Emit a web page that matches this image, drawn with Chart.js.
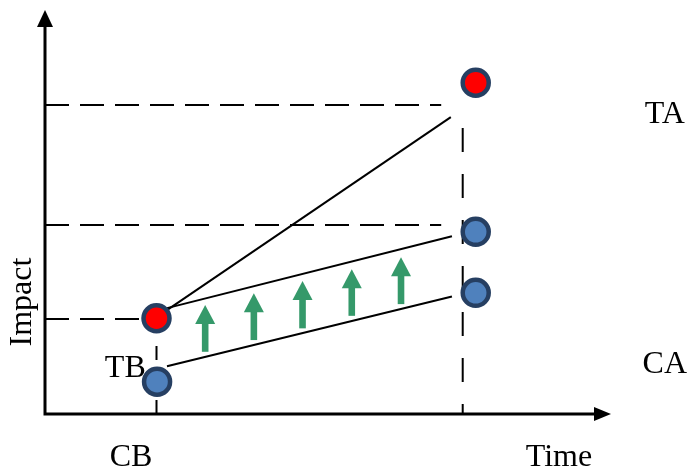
<!DOCTYPE html>
<html>
<head>
<meta charset="utf-8">
<script src="https://cdn.jsdelivr.net/npm/chart.js@4"></script>
<style>
  html, body { margin: 0; padding: 0; background: #fff; }
  #wrap { width: 689px; height: 471px; }
</style>
</head>
<body>
<div id="wrap"><canvas id="c" width="689" height="471"></canvas></div>
<script>
// ---- data (axis units: time 0..100, impact 0..100) ----
const cbTime = 19.7;        // current baseline column
const caTime = 76.1;        // column of the end-state circles
const guideTime = 73.8;     // dashed vertical at the end

// circles: [time, impact]
const redPoints = [[19.7, 23.7], [76.1, 82.0]];
const bluePoints = [[19.8, 8.0], [76.1, 45.1], [76.1, 30.0]];

// dashed guide levels
const guideLevels = [76.5, 46.8];
const lowLevel = 23.5;
const guideEnd = 70;
const guideTop = 70.8;

// solid trend lines: start / end
const taLine = [[21.55, 25.7], [71.7, 73.5]];
const midLine = [[21.55, 26.2], [71.9, 44.0]];
const lowLine = [[21.55, 11.8], [71.9, 29.1]];

// green improvement arrows
const arrowX = [28.3, 36.9, 45.5, 54.2, 62.9];
const arrowFrom = [15.4, 18.3, 21.2, 24.3, 27.2];
const arrowTo = [27.0, 29.9, 32.9, 35.8, 38.8];

const pts = a => a.map(p => ({ x: p[0], y: p[1] }));

function seg(data, dash, width, order, offset) {
  return {
    type: 'scatter', data: pts(data), showLine: true, pointRadius: 0,
    borderColor: '#000', borderWidth: width, borderDash: dash || [],
    borderDashOffset: offset || 0, order: order
  };
}

const datasets = [
  {
    type: 'scatter', data: pts(redPoints), pointRadius: 13, pointBorderWidth: 4.5,
    pointBackgroundColor: '#ff0000', pointBorderColor: '#263f62', order: 0
  },
  {
    type: 'scatter', data: pts(bluePoints), pointRadius: 13, pointBorderWidth: 4.5,
    pointBackgroundColor: '#4f81bd', pointBorderColor: '#263f62', order: 0
  },
  seg(taLine, null, 2, 1),
  seg(midLine, null, 2, 1),
  seg(lowLine, null, 2, 1)
];
guideLevels.forEach(l => datasets.push(seg([[0, l], [guideEnd, l]], [24, 11], 2, 2)));
datasets.push(seg([[0, lowLevel], [cbTime, lowLevel]], [24, 11], 2, 2));
datasets.push(seg([[cbTime, 0], [cbTime, redPoints[0][1]]], [14, 13], 2, 2));
datasets.push(seg([[guideTime, guideTop], [guideTime, 0]], [24, 22], 2, 2));

// axes with arrow heads
const axesPlugin = {
  id: 'axes',
  beforeDatasetsDraw(chart) {
    const { ctx, chartArea: a } = chart;
    ctx.save();
    ctx.strokeStyle = '#000';
    ctx.fillStyle = '#000';
    ctx.lineWidth = 3;
    ctx.beginPath();
    ctx.moveTo(a.left, a.top + 14);
    ctx.lineTo(a.left, a.bottom);
    ctx.lineTo(a.right - 14, a.bottom);
    ctx.stroke();
    ctx.beginPath();
    ctx.moveTo(a.left, a.top);
    ctx.lineTo(a.left - 8, a.top + 17);
    ctx.lineTo(a.left + 8, a.top + 17);
    ctx.closePath();
    ctx.fill();
    ctx.beginPath();
    ctx.moveTo(a.right, a.bottom);
    ctx.lineTo(a.right - 17, a.bottom - 7);
    ctx.lineTo(a.right - 17, a.bottom + 7);
    ctx.closePath();
    ctx.fill();
    ctx.restore();
  }
};

// green arrows drawn from the arrays through the scales
const arrowPlugin = {
  id: 'arrows',
  afterDatasetsDraw(chart) {
    const { ctx, scales: { x, y } } = chart;
    ctx.save();
    ctx.fillStyle = '#35996a';
    arrowX.forEach((v, i) => {
      const px = x.getPixelForValue(v);
      const y0 = y.getPixelForValue(arrowFrom[i]);
      const y1 = y.getPixelForValue(arrowTo[i]);
      const head = 19;
      ctx.fillRect(px - 3.3, y1 + head - 1, 6.6, y0 - (y1 + head - 1));
      ctx.beginPath();
      ctx.moveTo(px, y1);
      ctx.lineTo(px - 10, y1 + head);
      ctx.lineTo(px + 10, y1 + head);
      ctx.closePath();
      ctx.fill();
    });
    ctx.restore();
  }
};

// text labels anchored in axis units
const labelPlugin = {
  id: 'labels',
  afterDraw(chart) {
    const { ctx, scales: { x, y } } = chart;
    const items = [
      { t: 'TA', x: 109.5, y: 72.0, align: 'center' },
      { t: 'CA', x: 109.5, y: 10.1, align: 'center' },
      { t: 'TB', x: 17.8, y: 9.2, align: 'right' },
      { t: 'CB', x: 15.2, y: -12.9, align: 'center' },
      { t: 'Time', x: 90.8, y: -12.9, align: 'center' }
    ];
    ctx.save();
    ctx.fillStyle = '#000';
    ctx.font = '32px "Liberation Serif", "Times New Roman", serif';
    ctx.textBaseline = 'alphabetic';
    items.forEach(it => {
      ctx.textAlign = it.align;
      ctx.fillText(it.t, x.getPixelForValue(it.x), y.getPixelForValue(it.y));
    });
    ctx.translate(x.getPixelForValue(-2.4), y.getPixelForValue(27.7));
    ctx.rotate(-Math.PI / 2);
    ctx.textAlign = 'center';
    ctx.fillText('Impact', 0, 0);
    ctx.restore();
  }
};

new Chart(document.getElementById('c'), {
  type: 'scatter',
  data: { datasets },
  options: {
    responsive: false,
    animation: false,
    clip: false,
    layout: { autoPadding: false, padding: { left: 45, right: 78, top: 10, bottom: 57 } },
    plugins: { legend: { display: false }, tooltip: { enabled: false } },
    scales: {
      x: { type: 'linear', min: 0, max: 100, display: false },
      y: { type: 'linear', min: 0, max: 100, display: false }
    }
  },
  plugins: [axesPlugin, arrowPlugin, labelPlugin]
});
</script>
</body>
</html>
